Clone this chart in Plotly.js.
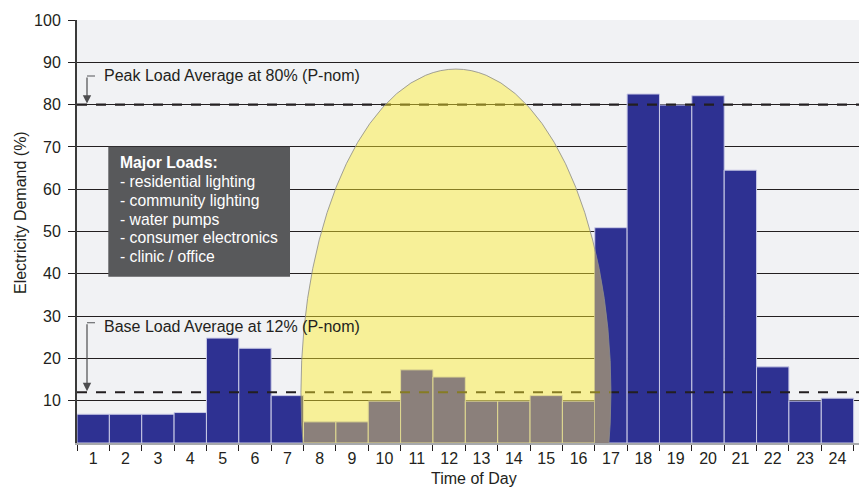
<!DOCTYPE html>
<html>
<head>
<meta charset="utf-8">
<script src="https://cdn.plot.ly/plotly-3.0.1.min.js"></script>
<style>html,body{margin:0;padding:0;background:#fff;overflow:hidden}</style>
</head>
<body>
<div id="chart" style="width:859px;height:487px"></div>
<script>
// ---------- data ----------
const hours = [1,2,3,4,5,6,7,8,9,10,11,12,13,14,15,16,17,18,19,20,21,22,23,24];
const demand = [6.8,6.8,6.8,7.2,24.8,22.4,11.2,5.0,5.0,9.9,17.3,15.6,9.9,9.9,11.2,9.9,50.9,82.5,79.9,82.1,64.5,18.0,9.9,10.6];
const tickLabels = ['1','2','3','4','5','6','7','8','9','10','11','12','13','14','15','16','17','18','19','20','21','22','23','24'];
const yTicks = [10,20,30,40,50,60,70,80,90,100];
const daylightHours = [8,9,10,11,12,13,14,15,16];
const refValues = [80, 12];
const refLabels = ['Peak Load Average at 80% (P-nom)', 'Base Load Average at 12% (P-nom)'];
const loadTitle = 'Major Loads:';
const loadItems = ['- residential lighting','- community lighting','- water pumps','- consumer electronics','- clinic / office'];
const solarSpan = [7.42, 17.0];     // hour extent of the solar curve
const solarRange = [-64.4, 88.4];   // vertical extent of the solar curve (%)
const xTitle = 'Time of Day';
const yTitle = 'Electricity Demand (%)';

// ---------- styling / geometry ----------
const L = 77, T = 20, W = 782, H = 423;
const barPx = 32.36;
const px2x = px => (px - L) / W;
const py2y = py => (T + H - py) / H;
const BLUE = '#2e3192';
const SHADED = 'rgb(44,39,192)';   // looks grey-brown under the translucent sun
const SUN = 'rgba(255,237,41,0.45)';
const INK = '#231f20';

const barColors = hours.map(h => daylightHours.includes(h) ? SHADED : BLUE);

// part of the first evening bar that lies under the solar curve
const cx = (solarSpan[0] + solarSpan[1]) / 2, hx = (solarSpan[1] - solarSpan[0]) / 2;
const cy = (solarRange[0] + solarRange[1]) / 2, hy = (solarRange[1] - solarRange[0]) / 2;
function sunRight(v){ const r = 1 - Math.pow((v - cy) / hy, 2); return r > 0 ? cx + hx * Math.sqrt(r) : cx; }
const edgeIdx = hours.findIndex(h => h - 0.5 < solarSpan[1] && h + 0.5 > solarSpan[1]);
let wedgePath = '';
if (edgeIdx >= 0) {
  const left = hours[edgeIdx] - 0.5, right = hours[edgeIdx] + 0.5, top = demand[edgeIdx];
  const pts = [];
  const N = 80;
  for (let k = 0; k <= N; k++) {
    const v = top * k / N;
    const xr = Math.min(Math.max(sunRight(v) - 0.005, left), right);
    pts.push([xr, v]);
  }
  wedgePath = 'M' + left + ',0 ' + pts.map(p => 'L' + p[0] + ',' + p[1]).join(' ') + ' L' + left + ',' + top + ' Z';
}

const boundaries = hours.map(h => h - 0.5).concat([hours[hours.length - 1] + 0.5]);

const trace = {
  type: 'bar', x: hours, y: demand,
  marker: { color: barColors, line: { color: '#c9cae6', width: 1 } },
  hoverinfo: 'skip'
};

const shapes = [];
if (wedgePath) shapes.push({ type: 'path', xref: 'x', yref: 'y', path: wedgePath, fillcolor: SHADED, line: { width: 0 }, layer: 'above' });
refValues.forEach(v => shapes.push({ type: 'line', xref: 'paper', yref: 'y', x0: 0, x1: 1, y0: v, y1: v,
  line: { color: INK, width: 2.2, dash: '10px,9px' }, layer: 'above' }));
shapes.push({ type: 'circle', xref: 'x', yref: 'y', x0: solarSpan[0], x1: solarSpan[1], y0: solarRange[0], y1: solarRange[1],
  fillcolor: SUN, line: { color: 'rgba(140,140,140,0.9)', width: 0.9 }, layer: 'above' });
// information box
shapes.push({ type: 'rect', xref: 'paper', yref: 'paper', x0: px2x(108.3), x1: px2x(290), y0: py2y(276.7), y1: py2y(146.7),
  fillcolor: '#58595b', line: { width: 0 }, layer: 'above' });
// elbow leaders
const leaderY = [76, 322.7];
leaderY.forEach(py => shapes.push({ type: 'line', xref: 'paper', yref: 'paper', x0: px2x(87), x1: px2x(95), y0: py2y(py), y1: py2y(py),
  line: { color: '#6d6e71', width: 1.2 }, layer: 'above' }));

const annotations = [];
refValues.forEach((v, i) => {
  const tipPy = T + H - v * H / 100;
  annotations.push({ xref: 'paper', yref: 'y', x: px2x(87), y: v, text: '', showarrow: true,
    ax: 0, ay: -(tipPy - leaderY[i]), arrowhead: 2, arrowsize: 1.4, arrowwidth: 1.2, arrowcolor: '#4d4d4f', standoff: 1, font: { size: 1 } });
  annotations.push({ xref: 'paper', yref: 'paper', x: px2x(102), y: py2y(leaderY[i] + (i ? 4 : 0)), xanchor: 'left', yanchor: 'middle',
    text: refLabels[i], showarrow: false, font: { size: 16, color: INK } });
});
annotations.push({ xref: 'paper', yref: 'paper', x: px2x(118), y: py2y(162.7), xanchor: 'left', yanchor: 'middle',
  text: '<b>' + loadTitle + '</b>', showarrow: false, font: { size: 15.7, color: '#ffffff' } });
loadItems.forEach((t, i) => annotations.push({ xref: 'paper', yref: 'paper', x: px2x(118), y: py2y(181.5 + 18.8 * i), xanchor: 'left', yanchor: 'middle',
  text: t, showarrow: false, font: { size: 15.7, color: '#ffffff' } }));
annotations.push({ xref: 'paper', yref: 'paper', x: px2x(474), y: py2y(479), xanchor: 'center', yanchor: 'middle',
  text: xTitle, showarrow: false, font: { size: 16, color: INK } });
annotations.push({ xref: 'paper', yref: 'paper', x: px2x(20), y: py2y(212), xanchor: 'center', yanchor: 'middle', textangle: -90,
  text: yTitle, showarrow: false, font: { size: 16, color: INK } });

const layout = {
  width: 859, height: 487,
  margin: { l: L, r: 859 - L - W, t: T, b: 487 - T - H, pad: 0 },
  paper_bgcolor: '#ffffff', plot_bgcolor: '#f1f2f4',
  bargap: 0, showlegend: false,
  font: { family: '"Liberation Sans", Arial, sans-serif', size: 16, color: INK },
  xaxis: {
    type: 'linear', range: [0.5, 0.5 + W / barPx], tickmode: 'array', tickvals: hours, ticktext: tickLabels,
    ticks: '', showgrid: false, zeroline: false, showline: true, linecolor: '#a7a9ac', linewidth: 2,
    tickfont: { size: 16, color: INK }, fixedrange: true,
    minor: { tickmode: 'array', tickvals: boundaries, ticks: 'outside', ticklen: 6, tickwidth: 1, tickcolor: INK, showgrid: false }
  },
  yaxis: {
    range: [0, 100], tickmode: 'array', tickvals: yTicks, ticks: 'outside', ticklen: 7, tickwidth: 1, tickcolor: INK,
    showgrid: true, gridcolor: INK, gridwidth: 1, zeroline: false, showline: true, linecolor: '#3a3a3a', linewidth: 2,
    tickfont: { size: 16, color: INK }, ticklabelstandoff: 4, fixedrange: true
  },
  shapes: shapes,
  annotations: annotations
};

Plotly.newPlot('chart', [trace], layout, { staticPlot: true, displayModeBar: false });
</script>
</body>
</html>
